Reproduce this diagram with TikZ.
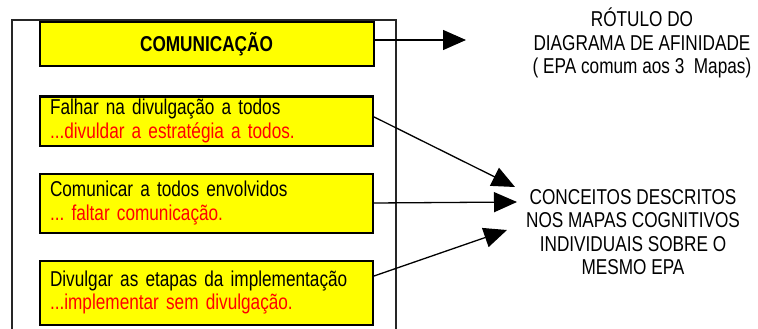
\documentclass[tikz,border=0pt]{standalone}
\usepackage{fontspec}
\setmainfont[FakeStretch=0.8]{Liberation Sans}
\usetikzlibrary{arrows.meta, calc}
\definecolor{boxyellow}{RGB}{255,255,0}
\definecolor{txtred}{RGB}{255,0,0}
\frenchspacing

\begin{document}
\begin{tikzpicture}[x=1pt, y=-1pt,
    every node/.style={font=\fontsize{21.5}{23.5}\selectfont},
    item/.style={draw, line width=2pt, fill=boxyellow, anchor=north west,
      text width=313pt, inner xsep=10pt, inner ysep=0pt, align=left},
    note/.style={align=center},
    conn/.style={-{Triangle[length=23pt, width=20pt]}, line width=1.3pt}]
    \useasboundingbox (0,0) rectangle (758,329);

    % Frame
    \draw[line width=1.2pt, black!85] (12,329) -- (12,20) -- (396,20) -- (396,329);

    % Boxes
    \node[item, minimum height=44pt, text width=314pt, align=center,
      font=\fontsize{21.5}{23.5}\selectfont\bfseries] (title) at (38.5,21.5) {COMUNICAÇÃO};
    \node[item, minimum height=49pt] (box1) at (39,95.5)
      {Falhar na divulgação a todos\\\textcolor{txtred}{...divuldar a estratégia a todos.}};
    \node[item, minimum height=59pt] (box2) at (39,172.5)
      {Comunicar a todos envolvidos\\\textcolor{txtred}{... faltar comunicação.}};
    \node[item, minimum height=64pt] (box3) at (39,259.5)
      {Divulgar as etapas da implementação\\\textcolor{txtred}{...implementar sem divulgação.}};

    % Labels
    \node[note] (rotulo) at (642,43) {RÓTULO DO\\DIAGRAMA DE AFINIDADE\\( EPA comum aos 3~ Mapas)};
    \node[note] (conceitos) at (633,232) {CONCEITOS DESCRITOS\\NOS MAPAS COGNITIVOS\\INDIVIDUAIS SOBRE O\\MESMO EPA};

    % Arrows
    \coordinate (tipA) at (466,40);
    \coordinate (tipB) at (515,187);
    \coordinate (tipC) at (517,202);
    \coordinate (tipD) at (507,230);
    \draw[conn] (title.east |- tipA) -- (tipA);
    \draw[conn] ($(box1.north east)!0.42!(box1.south east)$) -- (tipB);
    \draw[conn] (box2.east) -- (tipC);
    \draw[conn] ($(box3.north east)!0.25!(box3.south east)$) -- (tipD);
\end{tikzpicture}
\end{document}
